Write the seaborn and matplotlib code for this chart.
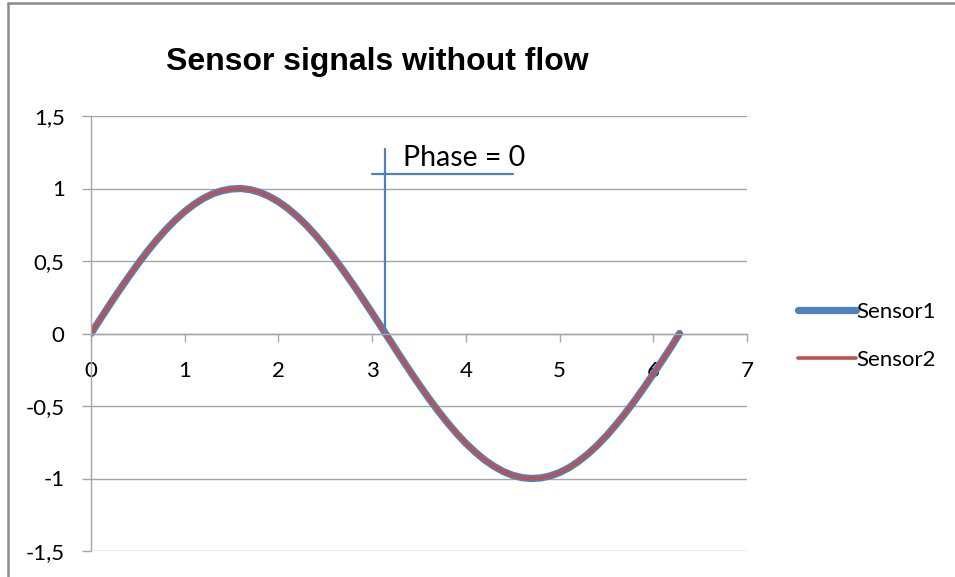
import numpy as np
import pandas as pd
import matplotlib
matplotlib.use("Agg")
import matplotlib.pyplot as plt
import seaborn as sns
from matplotlib.lines import Line2D

# ---- data ----
x_vals = [0.0, 0.1, 0.2, 0.3, 0.4, 0.5, 0.6, 0.7, 0.8, 0.9, 1.0, 1.1, 1.2, 1.3, 1.4,
          1.5, 1.6, 1.7, 1.8, 1.9, 2.0, 2.1, 2.2, 2.3, 2.4, 2.5, 2.6, 2.7, 2.8, 2.9,
          3.0, 3.1, 3.2, 3.3, 3.4, 3.5, 3.6, 3.7, 3.8, 3.9, 4.0, 4.1, 4.2, 4.3, 4.4,
          4.5, 4.6, 4.7, 4.8, 4.9, 5.0, 5.1, 5.2, 5.3, 5.4, 5.5, 5.6, 5.7, 5.8, 5.9,
          6.0, 6.1, 6.2, 6.28]
sensor1 = [0.0, 0.100, 0.199, 0.296, 0.389, 0.479, 0.565, 0.644, 0.717, 0.783, 0.841,
           0.891, 0.932, 0.964, 0.985, 0.997, 1.000, 0.992, 0.974, 0.946, 0.909, 0.863,
           0.808, 0.746, 0.675, 0.598, 0.516, 0.427, 0.335, 0.239, 0.141, 0.042,
           -0.058, -0.158, -0.256, -0.351, -0.443, -0.530, -0.612, -0.688, -0.757,
           -0.818, -0.872, -0.916, -0.952, -0.978, -0.994, -1.000, -0.996, -0.982,
           -0.959, -0.926, -0.883, -0.832, -0.773, -0.706, -0.631, -0.551, -0.465,
           -0.374, -0.279, -0.182, -0.083, 0.0]
sensor2 = [0.0, 0.100, 0.199, 0.296, 0.389, 0.479, 0.565, 0.644, 0.717, 0.783, 0.841,
           0.891, 0.932, 0.964, 0.985, 0.997, 1.000, 0.992, 0.974, 0.946, 0.909, 0.863,
           0.808, 0.746, 0.675, 0.598, 0.516, 0.427, 0.335, 0.239, 0.141, 0.042,
           -0.058, -0.158, -0.256, -0.351, -0.443, -0.530, -0.612, -0.688, -0.757,
           -0.818, -0.872, -0.916, -0.952, -0.978, -0.994, -1.000, -0.996, -0.982,
           -0.959, -0.926, -0.883, -0.832, -0.773, -0.706, -0.631, -0.551, -0.465,
           -0.374, -0.279, -0.182, -0.083, 0.0]
y_ticks = [-1.5, -1.0, -0.5, 0.0, 0.5, 1.0, 1.5]
y_tick_labels = ["-1,5", "-1", "-0,5", "0", "0,5", "1", "1,5"]
x_ticks = [0, 1, 2, 3, 4, 5, 6, 7]
x_tick_labels = ["0", "1", "2", "3", "4", "5", "6", "7"]
title = "Sensor signals without flow"
phase_x = 3.14
phase_line_top = 1.27
phase_h_y = 1.1
phase_h_x = [3.0, 4.5]
phase_text = "Phase = 0"

df = pd.DataFrame({"x": x_vals, "Sensor1": sensor1, "Sensor2": sensor2})

sns.set_theme(style="white")
plt.rcParams["font.family"] = ["Lato", "DejaVu Sans"]

fig = plt.figure(figsize=(9.55, 5.77), dpi=100)
W, H = 955, 577
ax = fig.add_axes([91 / W, 1 - 551 / H, (747 - 91) / W, (551 - 116) / H])

blue = "#4F81BD"
red = "#C0504D"
grid_c = "#A6A6A6"
txt_c = "#000000"

sns.lineplot(data=df, x="x", y="Sensor1", ax=ax, color=blue, linewidth=5.2,
             sort=False, legend=False, solid_capstyle="round", solid_joinstyle="round")
sns.lineplot(data=df, x="x", y="Sensor2", ax=ax, color=red, linewidth=2.6,
             sort=False, legend=False, solid_capstyle="round", solid_joinstyle="round")

# annotation lines
ax.plot([phase_x, phase_x], [0, phase_line_top], color=blue, linewidth=1.6)
ax.plot(phase_h_x, [phase_h_y, phase_h_y], color=blue, linewidth=1.6)
ax.text(3.33, 1.21, phase_text, fontsize=20.5, color=txt_c, va="center", ha="left")

ax.set_xlim(0, 7)
ax.set_ylim(-1.5, 1.5)
ax.set_yticks(y_ticks)
ax.set_yticklabels(y_tick_labels)
ax.set_xticks(x_ticks)
ax.set_xticklabels(x_tick_labels)
ax.set_xlabel("")
ax.set_ylabel("")

for yv in y_ticks:
    ax.axhline(yv, color=grid_c, linewidth=1.0, zorder=0)

ax.spines["top"].set_visible(False)
ax.spines["right"].set_visible(False)
ax.spines["left"].set_color(grid_c)
ax.spines["bottom"].set_color(grid_c)
ax.spines["bottom"].set_position(("data", 0))
ax.spines["left"].set_linewidth(1.0)
ax.spines["bottom"].set_linewidth(1.0)

ax.tick_params(axis="y", direction="out", length=6.5, width=1.0, color=grid_c,
               pad=12.5, labelsize=16, labelcolor=txt_c, left=True)
ax.tick_params(axis="x", direction="out", length=6, width=1.0, color=grid_c,
               pad=14, labelsize=16, labelcolor=txt_c, bottom=True)

handles = [Line2D([0], [0], color=blue, linewidth=5.2, solid_capstyle="round"),
           Line2D([0], [0], color=red, linewidth=2.6)]
leg = ax.legend(handles, ["Sensor1", "Sensor2"], loc="center left",
                bbox_to_anchor=(1.047, 0.494), frameon=False,
                fontsize=16, handlelength=2.6, handletextpad=0.05, labelspacing=1.25)
for t in leg.get_texts():
    t.set_color(txt_c)

fig.text(377 / W, 1 - 62 / H, title, ha="center", va="center", fontsize=23,
         fontweight="bold", color=txt_c, family=["Liberation Sans", "DejaVu Sans"])

# chart-area border (top and left visible)
fig.add_artist(Line2D([8 / W, 1.0], [1 - 3 / H, 1 - 3 / H], transform=fig.transFigure,
                      color="#8C8C8C", linewidth=1.8))
fig.add_artist(Line2D([8 / W, 8 / W], [0, 1 - 3 / H], transform=fig.transFigure,
                      color="#8C8C8C", linewidth=1.8))

fig.savefig("out.png", dpi=100)
